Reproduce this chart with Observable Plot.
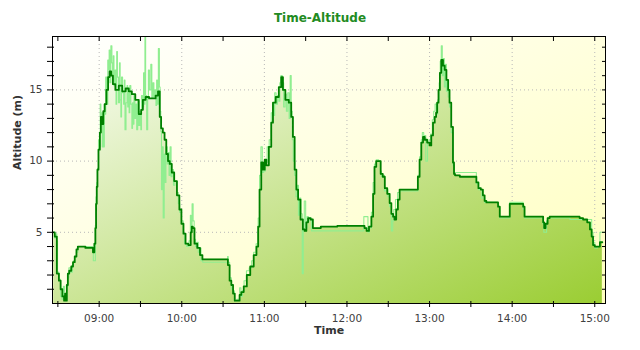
<!DOCTYPE html>
<html>
<head>
<meta charset="utf-8">
<script src="https://cdn.jsdelivr.net/npm/d3@7"></script>
<script src="https://cdn.jsdelivr.net/npm/@observablehq/plot@0.6"></script>
<style>
  body { margin: 0; background: #ffffff; }
  #title { width: 640px; height: 30px; text-align: center;
           font-family: "DejaVu Sans", sans-serif; font-weight: bold; font-size: 12px;
           line-height: 36px; color: #228b22; }
</style>
</head>
<body>
<div id="title">Time-Altitude</div>
<div id="chart"></div>
<script>
// ---- data: smoothed altitude (dark green) ----
const darkTime = [
  "08:27","08:28:30","08:30","08:31:30","08:32:30","08:34","08:35","08:35:30","08:36","08:37","08:37:30","08:39","08:40:30","08:41:30","08:43","08:44","08:45",
  "08:55","08:56","08:57","08:57:30","08:58","08:58:30","08:59","09:00","09:01","09:01:30","09:02:30","09:03:30","09:04:30","09:06","09:07","09:08","09:09:30","09:10:30",
  "09:13","09:15:30","09:18","09:20:30","09:22:30","09:25","09:27:30","09:30","09:31","09:32:30","09:35","09:37:30","09:40","09:42","09:43:30",
  "09:44:30","09:45:30","09:47","09:48","09:49:30","09:50:30","09:52","09:53:30","09:55:30","09:57:30","09:59","10:00:30","10:02","10:03:30","10:06","10:07","10:07:30","10:08:30","10:10","10:12:30","10:14","10:16",
  "10:33","10:34","10:35:30","10:36:30","10:38","10:39","10:41:30","10:42:30","10:44","10:46","10:48:30","10:51","10:53:30","10:55","10:56","10:57","10:58:30","10:59:30",
  "11:01","11:02","11:04:30","11:05:30","11:07","11:09:30","11:11:30","11:13","11:14","11:16:30","11:19","11:20","11:21:30","11:22:30","11:24","11:25","11:27:30","11:28:30","11:30","11:31","11:32:30","11:34:30","11:36","11:46",
  "12:00","12:12","12:13:30","12:15","12:17","12:18:30","12:19:30","12:20:30","12:22","12:24","12:25","12:27","12:28","12:30:30","12:31:30","12:33","12:34","12:35","12:36:30","12:37:30","12:39",
  "12:51","12:52","12:53:30","12:54:30","12:56","12:57","12:59:30","13:00:30","13:02","13:03","13:04:30","13:05","13:06","13:07","13:08","13:09","13:10:30","13:11:30","13:13","13:14","13:15","13:16:30","13:17:30","13:18","13:19",
  "13:25","13:33:30","13:34:30","13:36:30","13:38","13:39:30","13:40:30","13:42","13:49","13:50:30","13:51:30","13:57:30","13:59","14:07:30","14:08:30","14:09:30",
  "14:22","14:23","14:23:30","14:25","14:26:30","14:28","14:48:30","14:49:30","14:53:30","14:55:30","14:57:30","14:58","14:59:30","15:00:30","15:03:30","15:04","15:05:30"
];
const darkAlt = [
  5.0,4.7,2.1,1.6,1.0,0.5,0.2,0.7,0.2,1.3,2.1,2.3,2.6,2.9,3.3,3.8,4.0,
  3.9,3.6,4.2,5.3,7.0,8.2,9.4,10.8,12.0,13.1,12.6,13.5,14.0,15.0,15.9,16.3,16.0,15.4,
  15.0,15.3,14.9,15.1,14.9,14.7,14.3,13.3,13.6,14.3,14.5,14.4,14.4,14.6,14.9,
  13.1,12.3,12.0,11.5,10.5,10.0,9.8,9.2,8.6,7.6,6.6,5.6,4.9,4.2,4.1,5.0,5.4,5.3,4.2,3.9,3.4,3.1,
  3.1,2.7,1.6,1.3,0.7,0.2,0.2,0.6,0.8,1.2,2.0,2.6,3.4,4.0,5.4,8.0,9.9,9.4,
  10.1,9.7,11.0,12.7,14.1,14.5,15.2,15.9,15.0,14.3,14.1,13.1,11.7,9.4,8.0,7.3,5.9,5.2,5.1,5.7,6.0,5.9,5.3,5.4,
  5.45,5.45,5.3,5.1,5.4,6.1,7.7,9.6,10.0,10.0,9.1,8.9,8.1,7.7,7.05,6.3,6.1,5.9,6.6,7.3,8.0,
  8.0,8.9,10.1,11.3,11.7,11.5,11.3,11.1,11.8,12.7,13.1,13.4,14.1,15.0,16.2,17.1,16.7,16.4,15.7,15.0,14.1,12.4,9.9,9.1,9.0,
  8.9,8.9,8.5,8.1,8.0,7.6,7.2,7.1,7.1,6.8,6.1,6.1,7.0,7.0,6.8,6.1,
  6.1,5.7,5.3,5.6,6.0,6.1,6.1,6.0,5.9,5.7,5.2,4.7,4.1,4.0,4.0,4.3,4.3
];
// ---- data: raw altitude (light green) ----
const rawTime = [
  "08:27","08:28","08:29","08:29:30","08:30","08:31:30","08:32:30","08:33:30","08:34:30","08:35","08:36","08:37","08:37:30","08:38:30","08:40","08:41","08:41:30","08:43","08:44","08:45",
  "08:55","08:55:30","08:56","08:57","08:57:30","08:58","08:58:30","08:59",
  "09:00","09:00:30","09:01","09:01:30","09:02","09:02:30","09:03","09:03:30","09:04","09:04:30","09:05","09:06","09:06:30","09:07","09:07:30","09:08","09:09","09:09:30","09:10","09:10:30","09:11","09:12","09:12:30","09:13","09:13:30","09:14:30","09:15","09:15:30",
  "09:16","09:16:30","09:17:30","09:18","09:18:30","09:19","09:20","09:20:30","09:21","09:21:30","09:22","09:22:30","09:23:30","09:24","09:24:30","09:25","09:25:30","09:26:30","09:27","09:27:30","09:28:30","09:29","09:30","09:30:30",
  "09:31","09:32","09:32:30","09:33","09:33:30","09:34","09:35","09:35:30","09:36","09:37","09:38","09:38:30","09:39:30","09:40","09:41","09:41:30","09:42","09:42:30","09:43:30","09:44","09:44:30","09:45",
  "09:45:30","09:46","09:47","09:47:30","09:48","09:49","09:50","09:50:30","09:51","09:52","09:52:30","09:53:30","09:54:30","09:55:30","09:57","09:58","09:59","10:00:30","10:01:30","10:02:30","10:04:30","10:06","10:06:30","10:07","10:08","10:08:30","10:09:30","10:10:30","10:11:30","10:12:30","10:13:30","10:14:30","10:16",
  "10:33","10:33:30","10:34","10:35:30","10:36:30","10:38","10:38:30","10:41:30","10:42:30","10:43:30","10:44:30","10:46","10:48","10:50","10:51:30","10:53","10:55","10:56","10:57","10:58","10:59","11:00",
  "11:01:30","11:02:30","11:04:30","11:05:30","11:06:30","11:07","11:08","11:09","11:10","11:11","11:11:30","11:12:30","11:13:30","11:14:30","11:15:30","11:16:30","11:17:30","11:18:30","11:19","11:20","11:20:30","11:21:30","11:22:30","11:23:30","11:24:30","11:25","11:26","11:27","11:28","11:28:30","11:29:30","11:30:30","11:31:30","11:32:30","11:33:30","11:35",
  "12:12","12:12:30","12:15","12:15:30","12:17","12:18:30","12:19:30","12:20:30","12:22","12:24","12:24:30","12:25:30","12:27","12:27:30","12:29","12:30:30","12:31:30","12:33","12:33:30","12:34:30","12:36","12:37:30","12:39",
  "12:51","12:52","12:53:30","12:54:30","12:55","12:56:30","12:58","12:59","13:00","13:01:30","13:02:30","13:03:30","13:04:30","13:05:30","13:06:30","13:07:30","13:08","13:09","13:09:30","13:10:30","13:11","13:12","13:12:30","13:13","13:14","13:15","13:16:30","13:17:30","13:18:30",
  "13:33:30","13:34:30","13:36:30","13:39:30","13:40:30","13:49","13:50:30","13:51:30","13:57:30","13:59","14:07:30","14:08:30","14:09:30","14:22","14:22:30","14:23:30","14:24:30","14:25:30","14:26:30","14:57:30","14:58","14:59:30","15:00:30","15:03:30","15:04","15:07"
];
const rawAlt = [
  5.0,4.6,4.9,4.4,2.2,1.7,0.5,0.3,1.2,0.3,0.4,1.2,1.8,2.5,2.2,2.7,3.0,3.3,3.6,4.0,
  4.0,3.6,3.0,3.0,5.5,7.5,8.5,9.5,
  11.5,11.0,14.0,12.8,13.4,11.0,13.0,11.0,14.0,13.3,15.9,14.0,17.1,16.4,17.8,15.5,18.1,16.9,15.7,17.4,15.3,16.4,14.0,17.7,15.9,14.1,16.9,14.3,
  13.1,15.9,14.8,14.0,15.7,12.2,14.1,15.3,13.8,14.8,13.4,15.3,14.0,12.3,14.1,12.6,14.6,13.0,14.0,12.2,14.2,12.5,13.5,12.2,
  14.6,13.8,16.2,14.0,19.5,14.6,12.2,14.5,16.4,15.0,16.8,14.4,15.5,14.5,15.0,13.9,15.7,14.0,17.9,15.2,13.5,12.1,
  8.0,11.0,6.0,10.5,8.5,11.0,9.8,10.6,9.0,11.0,8.9,9.4,8.3,8.6,7.8,7.0,6.4,5.8,4.9,4.2,4.0,4.4,6.2,5.0,7.0,5.8,4.5,4.0,4.3,3.6,3.9,3.0,2.9,
  2.9,3.3,2.9,1.8,1.0,0.9,0.2,0.3,1.1,0.5,0.9,1.6,2.3,2.5,3.0,3.6,4.2,6.0,9.0,11.0,9.2,9.3,
  9.9,11.0,11.5,13.4,14.0,13.2,14.8,14.0,14.6,14.2,15.5,16.0,15.5,13.8,14.7,13.5,14.8,13.0,16.0,13.5,11.5,10.0,9.0,7.5,8.3,6.2,7.4,6.3,2.1,5.2,7.2,5.3,6.1,5.8,6.0,5.1,
  5.1,6.1,6.1,5.0,5.3,6.4,8.5,9.8,10.1,10.0,9.3,8.9,9.0,7.9,8.0,7.5,6.8,5.1,5.8,6.6,7.3,7.8,7.9,
  7.9,9.0,10.3,11.5,12.0,11.8,10.0,11.3,11.5,11.9,12.9,13.5,14.0,13.3,14.3,15.5,17.0,18.1,16.0,17.2,15.2,16.8,14.9,15.6,14.5,13.8,12.0,9.7,9.2,
  9.2,8.4,8.0,7.4,7.1,7.1,6.8,6.0,6.0,7.1,7.1,6.6,6.0,6.0,5.6,5.0,5.0,5.8,6.0,5.9,5.0,4.3,3.9,4.0,5.0,5.0
];
// ---- axis ticks ----
const xTickLabels = ["09:00","10:00","11:00","12:00","13:00","14:00","15:00"];
const yTickLabels = [5, 10, 15];

const parseT = s => { const p = s.split(":").map(Number); return new Date(Date.UTC(2020, 0, 1, p[0], p[1], p[2] || 0)); };
const dark = darkTime.slice(0, Math.min(darkTime.length, darkAlt.length)).map((t, i) => ({t: parseT(t), v: darkAlt[i]}));
const raw = rawTime.slice(0, Math.min(rawTime.length, rawAlt.length)).map((t, i) => ({t: parseT(t), v: rawAlt[i]}));
const hourTicks = xTickLabels.map(parseT);
const halfTicks = d3.utcMinute.every(30).range(parseT("08:30"), parseT("15:01"));
const yMinor = d3.range(1, 19);

function gradients(index, scales, values, dim) {
  const ns = "http://www.w3.org/2000/svg";
  const x0 = dim.marginLeft, y0 = dim.marginTop;
  const W = dim.width - dim.marginLeft - dim.marginRight;
  const H = dim.height - dim.marginTop - dim.marginBottom;
  const k = 2 * W * H / (W * W + H * H);
  const defs = document.createElementNS(ns, "defs");
  const mk = (id, c0, c1) => {
    const g = document.createElementNS(ns, "linearGradient");
    g.setAttribute("id", id);
    g.setAttribute("gradientUnits", "userSpaceOnUse");
    g.setAttribute("x1", x0); g.setAttribute("y1", y0);
    g.setAttribute("x2", x0 + k * H); g.setAttribute("y2", y0 + k * W);
    [[0, c0], [1, c1]].forEach(([o, c]) => {
      const s = document.createElementNS(ns, "stop");
      s.setAttribute("offset", o); s.setAttribute("stop-color", c);
      g.appendChild(s);
    });
    defs.appendChild(g);
  };
  mk("bgGrad", "#ffffff", "#ffffbe");
  mk("fillGrad", "#ffffff", "#9acd32");
  return defs;
}

const chart = Plot.plot({
  width: 640,
  height: 320,
  marginTop: 6,
  marginBottom: 47,
  marginLeft: 52,
  marginRight: 35,
  style: {fontFamily: "'DejaVu Sans', sans-serif", fontSize: "10.5px", background: "#ffffff"},
  x: {type: "utc", domain: [parseT("08:26:06"), parseT("15:07:48")], label: null},
  y: {domain: [0, 18.75], label: null},
  marks: [
    gradients,
    Plot.frame({fill: "url(#bgGrad)"}),
    Plot.gridX(hourTicks, {stroke: "#b8b8b8", strokeOpacity: 1, strokeDasharray: "1,3"}),
    Plot.gridY(yTickLabels, {stroke: "#b8b8b8", strokeOpacity: 1, strokeDasharray: "1,3"}),
    Plot.areaY(dark, {x: "t", y: "v", curve: "step", fill: "url(#fillGrad)"}),
    Plot.lineY(raw, {x: "t", y: "v", curve: "step", stroke: "#90ee90", strokeWidth: 1.1, clip: true}),
    Plot.lineY(dark, {x: "t", y: "v", curve: "step", stroke: "#008000", strokeWidth: 1.8}),
    Plot.frame({stroke: "#000000"}),
    // ticks
    Plot.axisX(halfTicks, {anchor: "bottom", tickSize: 6, dy: -2, tickFormat: () => "", stroke: "#000"}),
    Plot.axisX(halfTicks, {anchor: "top", tickSize: 4, dy: 4, tickFormat: () => "", stroke: "#000"}),
    Plot.axisY(yMinor, {anchor: "left", tickSize: 7, dx: 2, tickFormat: () => "", stroke: "#000"}),
    Plot.axisY(yMinor, {anchor: "right", tickSize: 4, dx: -4, tickFormat: () => "", stroke: "#000"}),
    // tick labels
    Plot.axisX(hourTicks, {anchor: "bottom", tickSize: 0, tickPadding: 11, tickFormat: d3.utcFormat("%H:%M"), fill: "#404040"}),
    Plot.axisY(yTickLabels, {anchor: "left", tickSize: 0, tickPadding: 10, fill: "#404040"}),
    // axis titles
    Plot.text(["Time"], {text: d => d, frameAnchor: "bottom", dy: 30, fontWeight: "bold", fontSize: 11, fill: "#333333"}),
    Plot.text(["Altitude (m)"], {text: d => d, frameAnchor: "left", dx: -35, rotate: -90, fontWeight: "bold", fontSize: 11, fill: "#333333"})
  ]
});
document.getElementById("chart").appendChild(chart);
</script>
</body>
</html>
